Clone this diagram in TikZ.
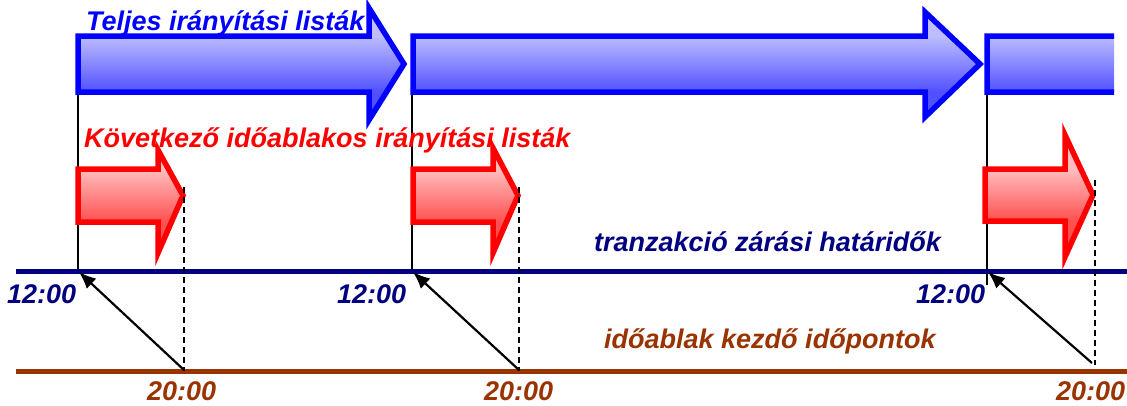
\documentclass[tikz,border=0pt]{standalone}
\usepackage{fontspec}
\setmainfont{Liberation Sans}
\usetikzlibrary{arrows.meta}
\definecolor{bstroke}{HTML}{0000FF}
\definecolor{blight}{HTML}{BDBDFF}
\definecolor{bdark}{HTML}{5050FF}
\definecolor{rstroke}{HTML}{FF0000}
\definecolor{rlight}{HTML}{FFBDBD}
\definecolor{rdark}{HTML}{FF5050}
\definecolor{navyc}{HTML}{000080}
\definecolor{brownc}{HTML}{993300}
% #1 scheme (b/r), #2 x0, #3 ytop, #4 ybot, #5 xhead, #6 yheadtop, #7 yheadbot, #8 xtip
\newcommand{\blockarr}[8]{%
  \begin{scope}
    \clip (#2,#3) -- (#5,#3) -- (#5,#6) -- (#8,{(#3+#4)/2}) -- (#5,#7) -- (#5,#4) -- (#2,#4) -- cycle;
    \fill[#1light] (#2,#6) rectangle (#8,#3);
    \shade[top color=#1light, bottom color=#1dark] (#2,#3) rectangle (#8,#4);
    \fill[#1dark] (#2,#4) rectangle (#8,#7);
  \end{scope}
  \draw[arrowline, #1stroke] (#2,#3) -- (#5,#3) -- (#5,#6) -- (#8,{(#3+#4)/2}) -- (#5,#7) -- (#5,#4) -- (#2,#4) -- cycle;
}
\tikzset{
  arrowline/.style={line width=5.5pt, line join=miter},
  lbl/.style={inner sep=0pt, anchor=base west, font=\fontsize{27}{30}\selectfont\bfseries\itshape},
  axisline/.style={line width=5pt},
  guide/.style={line width=2pt, black},
  dashguide/.style={line width=2pt, black, dash pattern=on 6pt off 4pt},
  link/.style={line width=2.2pt, black, -{Latex[length=17pt, width=14pt]}}
}
\begin{document}
\begin{tikzpicture}[x=1pt, y=-1pt]
\useasboundingbox (0,0) rectangle (1127,405);

% guide lines
\draw[guide] (78,92) -- (78,271);
\draw[guide] (412,92) -- (412,271);
\draw[guide] (987,92) -- (987,285);

% blue arrows
\blockarr{b}{78}{36}{92}{369}{8}{120}{404}
\blockarr{b}{413}{36}{92}{925}{12}{117}{980}
\begin{scope}
  \clip (970,0) rectangle (1114,140);
  \blockarr{b}{987}{36}{92}{1200}{10}{118}{1240}
\end{scope}

% red arrows
\blockarr{r}{78}{169}{222}{158}{150}{253}{183}
\blockarr{r}{413}{169}{222}{493}{148}{253}{518}
\blockarr{r}{985}{169}{221}{1065}{135}{257}{1093}

% axes
\draw[axisline, navyc] (16,271) -- (1127,271);
\draw[axisline, brownc] (16,371) -- (1127,371);

% dashed guides
\draw[dashguide] (184,187) -- (184,371);
\draw[dashguide] (519,187) -- (519,371);
\draw[dashguide] (1095,180) -- (1095,365);

% connectors
\coordinate (d1) at (79,272);
\coordinate (d2) at (413,272);
\coordinate (d3) at (988,272);
\coordinate (s1) at (184,370);
\coordinate (s2) at (519,370);
\coordinate (s3) at (1092,363);
\draw[link] (s1) -- (d1);
\draw[link] (s2) -- (d2);
\draw[link] (s3) -- (d3);

% labels
\node[lbl, text=bstroke] (t1) at (86,30) {Teljes irányítási listák};
\node[lbl, text=rstroke] (t2) at (84,147) {Következő időablakos irányítási listák};
\node[lbl, text=navyc] (t3) at (594,251) {tranzakció zárási határidők};
\node[lbl, text=brownc] (t4) at (604,348) {időablak kezdő időpontok};
\node[lbl, text=navyc] (n1) at (7,303) {12:00};
\node[lbl, text=navyc] (n2) at (337,303) {12:00};
\node[lbl, text=navyc] (n3) at (916,303) {12:00};
\node[lbl, text=brownc] (m1) at (147,400) {20:00};
\node[lbl, text=brownc] (m2) at (484,400) {20:00};
\node[lbl, text=brownc] (m3) at (1056,400) {20:00};
\end{tikzpicture}
\end{document}
